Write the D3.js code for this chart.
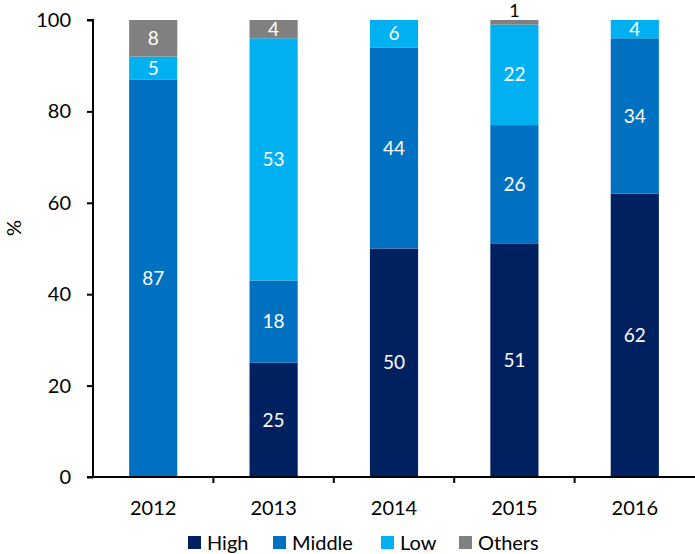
<!DOCTYPE html>
<html>
<head>
<meta charset="utf-8">
<script src="https://cdn.jsdelivr.net/npm/d3@7"></script>
<style>
  body { margin: 0; background: #fff; }
  svg { display: block; font-family: Lato, "Noto Sans", sans-serif; }
</style>
</head>
<body>
<svg id="chart" width="695" height="554"></svg>
<script>
// Share of enterprises by technology intensity, per year (%)
const years = ["2012", "2013", "2014", "2015", "2016"];
const high = [0, 25, 50, 51, 62];
const middle = [87, 18, 44, 26, 34];
const low = [5, 53, 6, 22, 4];
const others = [8, 4, 0, 1, 0];
const seriesNames = ["High", "Middle", "Low", "Others"];
const seriesColors = ["#002060", "#0070C0", "#00B0F0", "#808080"];
const yTicks = [0, 20, 40, 60, 80, 100];

const svg = d3.select("#chart");
const margin = { top: 20, right: 0, bottom: 77, left: 93 };
const width = 695 - margin.left - margin.right;
const height = 554 - margin.top - margin.bottom;

const rows = years.map((y, i) => ({
  year: y, High: high[i], Middle: middle[i], Low: low[i], Others: others[i]
}));
const stacked = d3.stack().keys(seriesNames)(rows);

const x = d3.scaleBand().domain(years).range([0, width]).paddingInner(0.6).paddingOuter(0.3);
const xBand = d3.scaleBand().domain(years).range([0, width]);
const y = d3.scaleLinear().domain([0, 100]).range([height, 0]);
const color = d3.scaleOrdinal().domain(seriesNames).range(seriesColors);

const g = svg.append("g").attr("transform", `translate(${margin.left},${margin.top})`);

// Stacked bars
const layers = g.selectAll("g.layer").data(stacked).join("g")
  .attr("class", "layer").attr("fill", d => color(d.key));
layers.selectAll("rect").data(d => d.map(p => ({ p, key: d.key }))).join("rect")
  .attr("x", d => x(d.p.data.year))
  .attr("width", x.bandwidth())
  .attr("y", d => y(d.p[1]))
  .attr("height", d => y(d.p[0]) - y(d.p[1]));

// Value labels: thin segments get their label above the bar
const thin = d => (d.p[1] - d.p[0]) < 2;
layers.selectAll("text").data(d => d.map(p => ({ p, key: d.key })).filter(d => d.p[1] - d.p[0] > 0)).join("text")
  .attr("x", d => x(d.p.data.year) + x.bandwidth() / 2)
  .attr("y", d => thin(d) ? y(d.p[1]) - 3 : (y(d.p[0]) + y(d.p[1])) / 2)
  .attr("dy", d => thin(d) ? "0" : "0.35em")
  .attr("text-anchor", "middle")
  .attr("fill", d => thin(d) ? "#000" : "#fff")
  .style("font-size", d => thin(d) ? "18px" : "19px")
  .text(d => d.p[1] - d.p[0]);

// Y axis
const yAxis = g.append("g")
  .call(d3.axisLeft(y).tickValues(yTicks).tickSize(6).tickPadding(16));
yAxis.select(".domain").attr("stroke", "#000").attr("stroke-width", 2).attr("d", `M-6,${height}H0V0H-6`);
yAxis.selectAll(".tick line").attr("stroke", "#000").attr("stroke-width", 2);
yAxis.selectAll(".tick text").style("font-size", "20px").attr("fill", "#000").style("font-family", "Lato, sans-serif");

// X axis with ticks between categories
const xAxis = g.append("g").attr("transform", `translate(0,${height})`);
xAxis.append("line").attr("x1", -6).attr("x2", width).attr("stroke", "#000").attr("stroke-width", 2);
xAxis.selectAll("line.sep").data(years.slice(1)).join("line")
  .attr("class", "sep")
  .attr("x1", d => xBand(d)).attr("x2", d => xBand(d))
  .attr("y1", 0).attr("y2", 6).attr("stroke", "#000").attr("stroke-width", 2);
xAxis.selectAll("text").data(years).join("text")
  .attr("x", d => xBand(d) + xBand.bandwidth() / 2)
  .attr("y", 38)
  .attr("text-anchor", "middle")
  .style("font-size", "20px")
  .text(d => d);

// Y axis title
svg.append("text")
  .attr("transform", "translate(21,228) rotate(-90)")
  .attr("text-anchor", "middle")
  .style("font-size", "20px")
  .text("%");

// Legend
const legendItems = [
  { name: "High", x: 188 },
  { name: "Middle", x: 273 },
  { name: "Low", x: 381 },
  { name: "Others", x: 459 }
];
const legend = svg.append("g").attr("transform", "translate(0,543)");
const li = legend.selectAll("g").data(legendItems).join("g")
  .attr("transform", d => `translate(${d.x},0)`);
li.append("rect").attr("x", 0).attr("y", -7).attr("width", 13).attr("height", 13)
  .attr("fill", d => color(d.name));
li.append("text").attr("x", 19).attr("y", 0).attr("dy", "0.35em")
  .style("font-size", "20px").text(d => d.name);
</script>
</body>
</html>
